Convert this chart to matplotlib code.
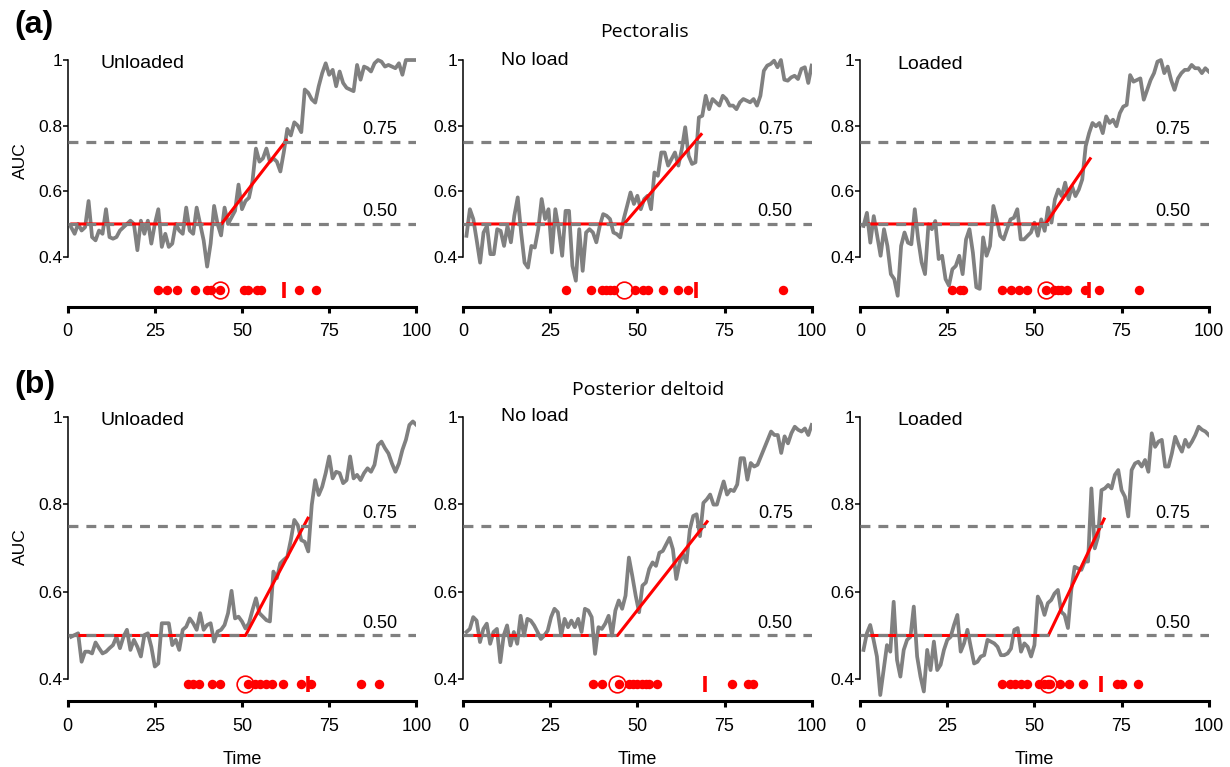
import numpy as np
import matplotlib
matplotlib.use('Agg')
from matplotlib import pyplot as plt

plt.rcParams['font.family'] = ['Liberation Sans', 'DejaVu Sans']

muscles = ['Pectoralis', 'Posterior deltoid']
tags = ['(a)', '(b)']
conditions = ['Unloaded', 'No load', 'Loaded']

# AUC time courses (grey traces), time 1..100
auc_pec_unloaded = [
    0.49, 0.47, 0.50, 0.48, 0.49, 0.57, 0.46, 0.45, 0.48, 0.47,
    0.545, 0.46, 0.455, 0.46, 0.48, 0.49, 0.50, 0.51, 0.50, 0.42,
    0.51, 0.47, 0.51, 0.44, 0.50, 0.545, 0.43, 0.47, 0.43, 0.44,
    0.50, 0.48, 0.47, 0.55, 0.48, 0.47, 0.55, 0.50, 0.45, 0.37,
    0.44, 0.555, 0.50, 0.465, 0.55, 0.50, 0.52, 0.54, 0.62, 0.545,
    0.57, 0.58, 0.63, 0.73, 0.69, 0.70, 0.73, 0.69, 0.70, 0.69,
    0.66, 0.72, 0.79, 0.77, 0.81, 0.80, 0.78, 0.91, 0.90, 0.88,
    0.87, 0.92, 0.96, 0.99, 0.955, 0.97, 0.92, 0.965, 0.93, 0.915,
    0.91, 0.905, 0.985, 0.94, 0.98, 0.975, 0.965, 0.99, 1.0, 0.995,
    0.98, 0.985, 0.98, 0.975, 0.99, 0.955, 1.0, 1.0, 1.0, 1.0]
auc_pec_noload = [
    0.464, 0.545, 0.515, 0.45, 0.382, 0.474, 0.494, 0.408, 0.408, 0.484,
    0.479, 0.433, 0.494, 0.444, 0.525, 0.581, 0.474, 0.382, 0.367, 0.433,
    0.428, 0.484, 0.576, 0.515, 0.545, 0.413, 0.545, 0.484, 0.403, 0.540,
    0.540, 0.372, 0.327, 0.484, 0.357, 0.474, 0.484, 0.474, 0.444, 0.494,
    0.530, 0.525, 0.515, 0.474, 0.469, 0.459, 0.515, 0.555, 0.596, 0.561,
    0.586, 0.545, 0.576, 0.586, 0.545, 0.657, 0.647, 0.718, 0.718, 0.678,
    0.698, 0.718, 0.678, 0.728, 0.795, 0.708, 0.683, 0.688, 0.825, 0.830,
    0.891, 0.850, 0.881, 0.871, 0.861, 0.891, 0.881, 0.861, 0.861, 0.850,
    0.871, 0.881, 0.876, 0.871, 0.881, 0.861, 0.891, 0.967, 0.983, 0.988,
    0.998, 0.978, 1.0, 0.94, 0.937, 0.947, 0.952, 0.942, 0.973, 0.978,
    0.93, 0.983]
auc_pec_loaded = [
    0.494, 0.534, 0.443, 0.524, 0.464, 0.403, 0.484, 0.433, 0.347, 0.332,
    0.281, 0.433, 0.474, 0.443, 0.438, 0.545, 0.453, 0.383, 0.347, 0.499,
    0.484, 0.509, 0.393, 0.403, 0.332, 0.312, 0.362, 0.372, 0.403, 0.347,
    0.453, 0.484, 0.413, 0.307, 0.302, 0.459, 0.403, 0.433, 0.555, 0.514,
    0.464, 0.453, 0.484, 0.514, 0.519, 0.545, 0.453, 0.453, 0.464, 0.474,
    0.504, 0.464, 0.514, 0.479, 0.550, 0.504, 0.575, 0.605, 0.585, 0.626,
    0.575, 0.615, 0.585, 0.605, 0.636, 0.737, 0.777, 0.808, 0.798, 0.808,
    0.777, 0.828, 0.808, 0.818, 0.798, 0.838, 0.858, 0.863, 0.954, 0.934,
    0.939, 0.944, 0.879, 0.909, 0.939, 0.960, 0.995, 1.0, 0.960, 0.980,
    0.939, 0.909, 0.944, 0.960, 0.970, 0.970, 0.985, 0.975, 0.975, 0.960,
    0.975, 0.965]
auc_del_unloaded = [
    0.497, 0.501, 0.505, 0.440, 0.463, 0.463, 0.459, 0.484, 0.471, 0.459,
    0.463, 0.471, 0.478, 0.497, 0.471, 0.497, 0.513, 0.467, 0.490, 0.474,
    0.452, 0.501, 0.505, 0.474, 0.429, 0.436, 0.528, 0.528, 0.528, 0.478,
    0.490, 0.467, 0.513, 0.520, 0.539, 0.528, 0.513, 0.551, 0.513, 0.524,
    0.528, 0.486, 0.509, 0.513, 0.524, 0.551, 0.602, 0.539, 0.543, 0.532,
    0.516, 0.528, 0.558, 0.585, 0.551, 0.543, 0.535, 0.532, 0.646, 0.631,
    0.665, 0.673, 0.680, 0.718, 0.764, 0.752, 0.718, 0.714, 0.692, 0.798,
    0.855, 0.821, 0.840, 0.871, 0.909, 0.859, 0.874, 0.871, 0.848, 0.855,
    0.909, 0.859, 0.867, 0.855, 0.871, 0.882, 0.874, 0.890, 0.935, 0.943,
    0.928, 0.916, 0.893, 0.874, 0.893, 0.924, 0.947, 0.981, 0.989, 0.981]
auc_del_noload = [
    0.508, 0.515, 0.542, 0.534, 0.485, 0.515, 0.527, 0.481, 0.508, 0.515,
    0.439, 0.500, 0.523, 0.477, 0.508, 0.481, 0.545, 0.500, 0.538, 0.534,
    0.523, 0.508, 0.492, 0.500, 0.511, 0.542, 0.561, 0.553, 0.500, 0.538,
    0.519, 0.534, 0.519, 0.538, 0.508, 0.561, 0.557, 0.542, 0.458, 0.519,
    0.515, 0.527, 0.545, 0.500, 0.557, 0.580, 0.561, 0.591, 0.678, 0.636,
    0.591, 0.553, 0.614, 0.621, 0.652, 0.667, 0.659, 0.689, 0.693, 0.708,
    0.723, 0.697, 0.629, 0.667, 0.686, 0.667, 0.742, 0.773, 0.777, 0.727,
    0.803, 0.811, 0.822, 0.799, 0.799, 0.826, 0.852, 0.822, 0.833, 0.830,
    0.845, 0.905, 0.905, 0.856, 0.894, 0.886, 0.890, 0.909, 0.928, 0.947,
    0.966, 0.958, 0.958, 0.917, 0.955, 0.939, 0.962, 0.977, 0.970, 0.966,
    0.973, 0.958, 0.981]
auc_del_loaded = [
    0.467, 0.505, 0.524, 0.490, 0.452, 0.364, 0.421, 0.478, 0.463, 0.577,
    0.444, 0.406, 0.467, 0.490, 0.497, 0.566, 0.452, 0.406, 0.372, 0.467,
    0.421, 0.486, 0.421, 0.433, 0.467, 0.490, 0.497, 0.524, 0.547, 0.463,
    0.482, 0.513, 0.474, 0.436, 0.440, 0.452, 0.455, 0.490, 0.486, 0.482,
    0.474, 0.455, 0.455, 0.459, 0.470, 0.513, 0.517, 0.463, 0.482, 0.474,
    0.452, 0.478, 0.589, 0.574, 0.547, 0.574, 0.581, 0.596, 0.604, 0.554,
    0.547, 0.517, 0.604, 0.657, 0.653, 0.650, 0.669, 0.669, 0.836, 0.699,
    0.726, 0.832, 0.836, 0.844, 0.836, 0.867, 0.878, 0.832, 0.817, 0.772,
    0.878, 0.893, 0.897, 0.886, 0.901, 0.874, 0.962, 0.931, 0.943, 0.947,
    0.886, 0.886, 0.916, 0.954, 0.935, 0.920, 0.947, 0.931, 0.943, 0.958,
    0.977, 0.970, 0.966, 0.958]

# piecewise fit: start, onset, end time, AUC at end
fit_pec = [(1.2, 44.1, 62.7, 0.755), (1.4, 46.2, 68.3, 0.773), (2.7, 53.2, 66.0, 0.699)]
fit_del = [(2.1, 51.0, 68.9, 0.768), (1.9, 44.3, 70.0, 0.760), (2.1, 54.0, 70.0, 0.766)]

# individual onsets (dots), group onset (open circle), 0.75 crossing (bar)
onsets_pec = [
    [26.0, 28.4, 31.4, 36.5, 40.0, 41.0, 43.6, 50.6, 51.8, 54.2, 55.4, 66.4, 71.3],
    [29.5, 36.6, 39.8, 41.0, 42.2, 43.3, 49.3, 51.5, 53.2, 57.3, 61.6, 64.6, 91.7],
    [26.4, 28.8, 29.5, 40.7, 43.3, 45.7, 47.9, 53.2, 55.6, 56.7, 57.5, 59.4, 64.5, 68.5, 80.0]]
onsets_del = [
    [34.6, 36.0, 37.7, 41.3, 43.6, 51.8, 53.7, 55.1, 57.0, 58.5, 61.8, 66.8, 69.9, 84.2, 89.2],
    [37.2, 39.8, 44.7, 47.7, 48.9, 50.0, 51.2, 52.5, 53.4, 55.5, 77.1, 81.8, 83.3],
    [40.7, 42.9, 44.4, 46.3, 47.9, 51.3, 52.7, 54.0, 54.6, 57.3, 59.9, 64.0, 73.6, 75.1, 79.6]]
group_onset_pec = [43.6, 46.2, 53.2]
group_onset_del = [50.8, 44.3, 54.0]
cross75_pec = [62.0, 66.8, 65.7]
cross75_del = [68.9, 69.4, 69.0]

thresholds = [0.50, 0.75]

traces = [[auc_pec_unloaded, auc_pec_noload, auc_pec_loaded],
          [auc_del_unloaded, auc_del_noload, auc_del_loaded]]
fits = [fit_pec, fit_del]
onsets = [onsets_pec, onsets_del]
group_onsets = [group_onset_pec, group_onset_del]
crossings = [cross75_pec, cross75_del]

fig = plt.figure(figsize=(12.3, 7.67), dpi=100)

lefts = [0.0550, 0.3764, 0.6992]
width = 0.2835
bottoms = [0.6001, 0.0861]
heights = [0.3302, 0.3821]
ylims = [(0.2476, 1.02), (0.3504, 1.02)]
dot_y = [0.30, 0.389]
label_x = [9.3, 10.9, 10.6]
label_y = [[0.99, 1.0, 0.985], [0.992, 1.0, 0.992]]
grey = '#808080'

for r in range(2):
    for c in range(3):
        ax = fig.add_axes([lefts[c], bottoms[r], width, heights[r]])
        vals = traces[r][c]
        t = np.linspace(1, 100, len(vals))
        ax.plot(t, vals, color=grey, lw=2.7, zorder=2)

        t0, t_on, t_end, a_end = fits[r][c]
        ax.plot([t0, t_on, t_end], [0.5, 0.5, a_end], color='red', lw=2.2, zorder=3)

        for lvl in thresholds:
            ax.axhline(lvl, color=grey, lw=2.3, ls=(0, (3.1, 2.5)), zorder=4)
            ax.annotate(f'{lvl:.2f}', (94.6, lvl), xytext=(0, 5.5), textcoords='offset points',
                        ha='right', va='baseline', fontsize=13)

        yd = dot_y[r]
        xs = onsets[r][c]
        ax.plot(xs, [yd] * len(xs), 'o', color='red', ms=6.8, mec='none', zorder=5)
        ax.plot([group_onsets[r][c]], [yd], 'o', mfc='none', mec='red', ms=12, mew=1.2, zorder=5)
        ax.plot([crossings[r][c]], [yd], '|', color='red', ms=11, mew=2.6, zorder=5)

        ax.text(label_x[c], label_y[r][c], conditions[c], fontsize=14, va='center')

        ax.set_xlim(0, 100)
        ax.set_ylim(*ylims[r])
        ax.spines['top'].set_visible(False)
        ax.spines['right'].set_visible(False)
        ax.spines['left'].set_bounds(0.4, 1.0)
        ax.spines['bottom'].set_bounds(0, 100)
        ax.spines['left'].set_linewidth(1.1)
        ax.spines['bottom'].set_linewidth(2.2)
        ax.set_yticks([0.4, 0.6, 0.8, 1.0], ['0.4', '0.6', '0.8', '1'])
        ax.set_xticks([0, 25, 50, 75, 100])
        ax.tick_params(axis='y', width=1.1, length=3.5, labelsize=12.5, pad=0.5)
        ax.tick_params(axis='x', width=2.2, length=4, labelsize=13, pad=8)
        ax.patch.set_alpha(0)
        if r == 1:
            ax.set_xlabel('Time', fontsize=13, labelpad=11.5)

fig.text(644 / 1230, 1 - 32 / 767, muscles[0], ha='center', va='center', fontsize=14,
         family=['Open Sans', 'DejaVu Sans'])
fig.text(648 / 1230, 1 - 390 / 767, muscles[1], ha='center', va='center', fontsize=14,
         family=['Open Sans', 'DejaVu Sans'])
fig.text(14 / 1230, 1 - 25 / 767, tags[0], fontsize=23, weight='bold', va='center')
fig.text(14 / 1230, 1 - 385 / 767, tags[1], fontsize=23, weight='bold', va='center')
fig.text(20 / 1230, 1 - 161 / 767, 'AUC', rotation=90, ha='center', va='center', fontsize=12.5)
fig.text(20 / 1230, 1 - 547 / 767, 'AUC', rotation=90, ha='center', va='center', fontsize=12.5)

fig.savefig('out.png', dpi=100)
